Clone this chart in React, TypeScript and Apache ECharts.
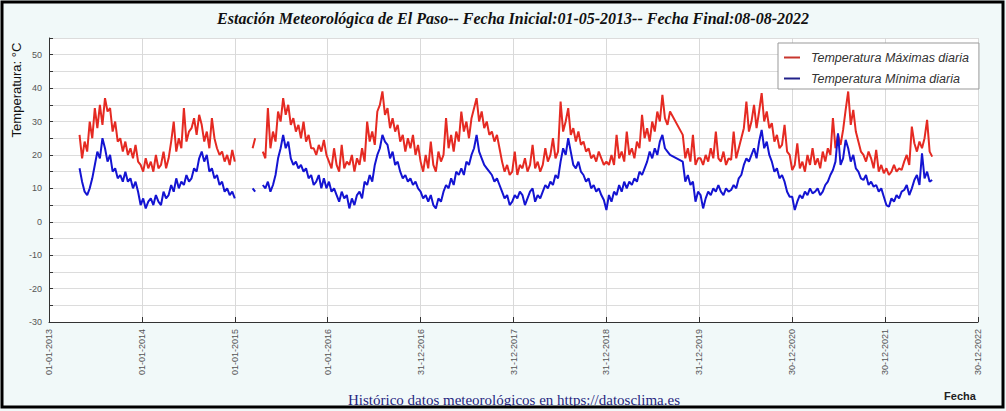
import React, { useEffect, useRef } from "react";
import * as echarts from "echarts";

// S = day without data where the original line is drawn straight across; null = broken line
const S = undefined;
const startDay = 120; // 01-05-2013 as days after 01-01-2013
const stepDays = 10;

const xTickLabels = [
  "01-01-2013", "01-01-2014", "01-01-2015", "01-01-2016", "31-12-2016",
  "31-12-2017", "31-12-2018", "31-12-2019", "30-12-2020", "30-12-2021", "30-12-2022",
];

const seriesNames = ["Temperatura Máximas diaria", "Temperatura Mínima diaria"];

const maxTemp = [
  // 2013
  26, 19, 24, 21, 30, 25, 34, 28, 35, 29, 37, 33, 34, 27, 30, 24, 25, 21, 24, 20, 22, 19, 23, 18,
  // 2014
  17, 15, 19, 16, 18, 15, 20, 16, 17, 21, 16, 19, 24, 30, 21, 25, 22, 34, 24, 27, 28, 31, 26, 32,
  29, 24, 27, 22, 31, 25, 22, 20, 21, 18, 20, 17, 21.5, 18,
  // 2015
  null, null, null, null, null, null, 22, 25, null, null,
  21, 19, 34, 22, 27, 24, 33, 30, 37, 32, 35, 29, 31, 27, 29, 25, 30, 24, 26, 22, 22, 20, 23, 21, 24.5, 20,
  // 2016
  18, 16, 22, 17, 15, 23, 16, 18, 17, 20, 15, 19, 17, 22, 18, 30, 24, 27, 23, 33, 35, 39, 32, 34,
  28, 31, 27, 29, 24, 26, 21, 25, 22, 26, 20, 23,
  // 2017
  18, 15, 20, 16, 24, 17, 15, 21, 18, 20, 31, 22, 26, 21, 27, 24, 33, 27, 30, 25, 31, 34, 37, 30,
  33, 28, 30, 26, 27, 24, 26, 22, 18, 15, 17, 14,
  // 2018
  15, 21, 14, 17, 16, 19, 15, 17, 23, 16, 18, 15, 17, 22, 18, 20, 25, 19, 21, 36, 27, 30, 34, 26,
  28, 24, 27, 23, 24, 21, 22, 19, 20, 18, 21, 19, 17,
  // 2019
  18, 17, 20, 17, 26, 19, 21, 18, 27, 20, 22, 19, 24, 22, 32, 25, 28, 24, 30, 27, 33, 30, 38, 31,
  29, 33, S, S, S, S, 26, 19, 22, 18, 26, 17, 19,
  // 2020
  19, 17, 20, 18, 22, 19, 27, 19, 18, 21, 17, 19, 18.5, 27, 19, 22, 25, 28, 36, 27, 30, 35, 28, 33,
  38.5, 30, 33, 28, 29.5, 24, 26, 22, 23, 29, 21, 20,
  // 2021
  15.5, 17, 23.5, 16, 18, 15, 20, 17, 22, 17, 19, 16, 21, 18, 22, 20, 31, 22, 26, 23, 27.5, 33.5, 39, 29,
  33.5, 27, 24, 21, 20, 18, 21, 19, 16, 21.5, 15, 17,
  // 2022
  14.5, 16, 14, 15, 17, 15, 16, 15.5, 18, 20, 17, 28.5, 23.5, 21, 24, 22, 25, 30.5, 21, 19.5,
];

const minTemp = [
  // 2013
  16, 12, 9, 8, 10, 13, 17, 21, 19, 25, 22, 18, 20, 15, 16, 13, 14, 12, 15, 12, 13, 10, 12, 9,
  // 2014
  5, 7, 4, 6, 7, 5, 8, 6, 5, 9, 7, 8, 11, 9, 13, 10, 12, 11, 14, 12, 13, 16, 15, 19,
  21, 18, 20, 15, 16, 13, 14, 11, 12, 9, 10, 8, 9, 7,
  // 2015
  null, null, null, null, null, null, 10, 9, null, null,
  11, 10, 12, 9, 11, 14, 19, 22, 26, 22, 24, 19, 17, 18, 16, 17, 15, 16, 13, 14, 11, 12, 14, 10, 13, 10,
  // 2016
  12, 9, 10, 8, 6, 9, 7, 8, 4, 7, 5, 8, 9, 7, 12, 11, 14, 12, 17, 20, 22, 26, 24, 23,
  19, 21, 17, 18, 15, 13, 14, 12, 13, 11, 12, 10,
  // 2017
  9, 7, 8, 6, 8, 5, 4, 7, 6, 9, 11, 10, 13, 11, 15, 14, 16, 14, 18, 17, 20, 22, 26, 21,
  19, 17, 16, 15, 14, 12, 13, 11, 9, 7, 8, 5,
  // 2018
  6, 8, 7, 9, 8, 5, 7, 9, 10, 6, 8, 7, 9, 11, 10, 12, 11, 14, 13, 18, 22, 20, 25, 21,
  17, 16, 18, 15, 14, 12, 13, 10, 11, 9, 10, 8, 6.5,
  // 2019
  3.5, 8, 6, 9, 8, 11, 9, 12, 10, 12, 11, 13, 12, 15, 14, 16, 18, 21, 19, 22, 20, 24, 26, 22,
  21, 20, S, S, S, S, 18, 12, 14, 11, 12, 6, 9,
  // 2020
  8, 4, 7, 9, 8, 10, 9, 11, 9, 8, 10, 9, 9.5, 11, 10, 13, 14, 17, 19, 18, 20, 22, 19, 24,
  27.5, 22, 24, 20, 18, 15, 16, 13, 14, 12, 9, 7.5,
  // 2021
  7.5, 3.5, 6, 8, 7, 9, 8, 10, 8.5, 9, 10, 8, 9, 11, 12, 14, 15.5, 18, 26.5, 17, 19, 24.5, 22, 18,
  20, 16, 15, 13, 12.5, 14, 11, 12, 10.5, 11, 9, 10,
  // 2022
  7.5, 5, 4.5, 7, 6, 8, 7, 9, 9.5, 11, 8, 10, 12.5, 14, 11, 20.5, 13, 15, 12, 12.5,
];

function toPairs(vals: (number | null | undefined)[]) {
  const out: [number, number | null][] = [];
  vals.forEach((v, i) => {
    if (v === undefined) return;
    out.push([startDay + i * stepDays, v]);
  });
  return out;
}

const SANS = "'Liberation Sans', Arial, sans-serif";
const SERIF = "'Liberation Serif', 'Times New Roman', serif";

export default function App() {
  const ref = useRef<HTMLDivElement>(null);

  useEffect(() => {
    document.body.style.margin = "0";
    if (!ref.current) return;
    const chart = echarts.init(ref.current, undefined, { renderer: "svg" });
    chart.setOption({
      animation: false,
      backgroundColor: "#f1f9f9",
      grid: {
        left: 49,
        right: 28,
        top: 38,
        bottom: 89,
        show: true,
        backgroundColor: "#ffffff",
        borderWidth: 0,
      },
      xAxis: {
        type: "value",
        min: 0,
        max: 3650,
        interval: 365,
        axisLine: { onZero: false, lineStyle: { color: "#333", width: 1 } },
        axisTick: { show: true, inside: true, length: 5, lineStyle: { color: "#333" } },
        axisLabel: {
          rotate: 90,
          fontSize: 9,
          color: "#555",
          margin: 7,
          fontFamily: SANS,
          showMinLabel: true,
          showMaxLabel: true,
          formatter: (v: number) => xTickLabels[Math.round(v / 365)] ?? "",
        },
        splitLine: { show: true, lineStyle: { color: "#d9d9d9", width: 1 } },
      },
      yAxis: {
        type: "value",
        min: -30,
        max: 55,
        interval: 5,
        axisLine: { show: true, onZero: false, lineStyle: { color: "#333", width: 1 } },
        axisTick: { show: true, inside: true, length: 4, lineStyle: { color: "#333" } },
        axisLabel: {
          fontSize: 9,
          color: "#555",
          margin: 7,
          fontFamily: SANS,
          formatter: (v: number) => (v % 10 === 0 ? String(v) : ""),
        },
        splitLine: { show: true, lineStyle: { color: "#dcdcdc", width: 1 } },
      },
      legend: {
        orient: "vertical",
        left: 778,
        top: 43,
        padding: [8, 10, 4, 6],
        itemGap: 8,
        itemWidth: 16,
        itemHeight: 2,
        icon: "rect",
        selectedMode: false,
        backgroundColor: "#ffffff",
        borderColor: "#999",
        borderWidth: 1,
        textStyle: {
          fontSize: 12.5,
          fontStyle: "italic",
          color: "#333",
          fontFamily: SANS,
          lineHeight: 12,
          padding: [0, 0, 0, 6],
        },
        data: [
          { name: seriesNames[0], itemStyle: { color: "#c8362e" } },
          { name: seriesNames[1], itemStyle: { color: "#22228a" } },
        ],
      },
      series: [
        {
          name: seriesNames[0],
          type: "line",
          showSymbol: false,
          connectNulls: false,
          lineStyle: { color: "#e52a22", width: 2 },
          itemStyle: { color: "#e52a22" },
          data: toPairs(maxTemp),
        },
        {
          name: seriesNames[1],
          type: "line",
          showSymbol: false,
          connectNulls: false,
          lineStyle: { color: "#1414d2", width: 2 },
          itemStyle: { color: "#1414d2" },
          data: toPairs(minTemp),
        },
      ],
      graphic: [
        {
          type: "text",
          x: 513,
          y: 18,
          style: {
            text: "Estación Meteorológica de El Paso-- Fecha Inicial:01-05-2013-- Fecha Final:08-08-2022",
            fontSize: 16,
            fontWeight: "bold",
            fontStyle: "italic",
            fontFamily: SERIF,
            fill: "#111",
            align: "center",
            verticalAlign: "middle",
          },
        },
        {
          type: "text",
          x: 16,
          y: 90,
          rotation: Math.PI / 2,
          style: {
            text: "Temperatura: °C",
            fontSize: 13,
            fontFamily: SANS,
            fill: "#111",
            align: "center",
            verticalAlign: "middle",
          },
        },
        {
          type: "text",
          x: 960,
          y: 396,
          style: {
            text: "Fecha",
            fontSize: 11,
            fontWeight: "bold",
            fontFamily: SANS,
            fill: "#222",
            align: "center",
            verticalAlign: "middle",
          },
        },
        {
          type: "text",
          x: 514,
          y: 400,
          style: {
            text: "Histórico datos meteorológicos en https://datosclima.es",
            fontSize: 15,
            fontFamily: SERIF,
            fill: "#262680",
            align: "center",
            verticalAlign: "middle",
          },
        },
        {
          type: "rect",
          silent: true,
          z: 100,
          shape: { x: 2, y: 2, width: 1001, height: 405 },
          style: { fill: "none", stroke: "#000", lineWidth: 3 },
        },
      ],
    });
    return () => chart.dispose();
  }, []);

  return <div ref={ref} style={{ width: 1006, height: 411 }} />;
}
